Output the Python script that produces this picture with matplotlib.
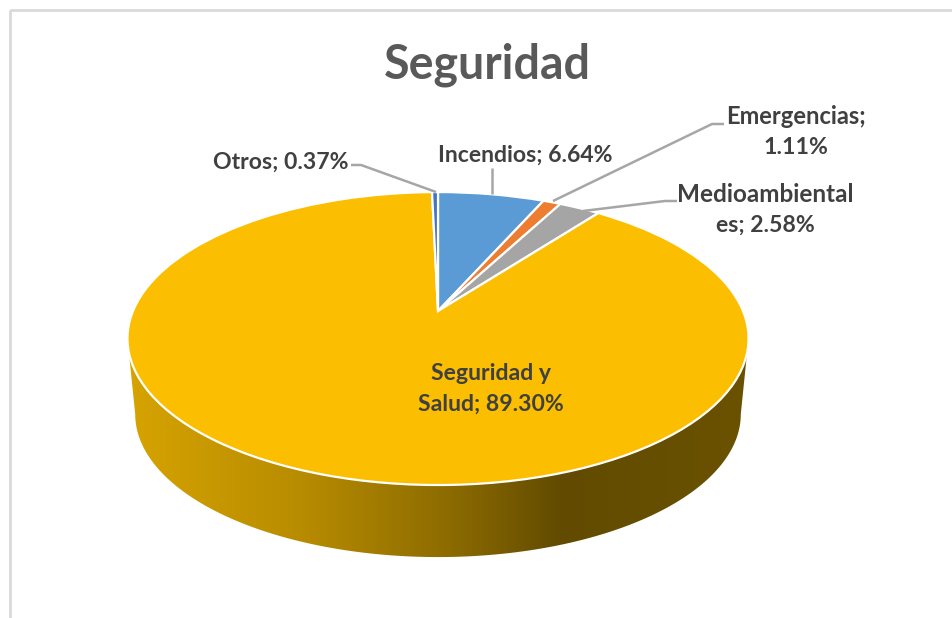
import numpy as np
import matplotlib
matplotlib.use("Agg")
import matplotlib.pyplot as plt
from matplotlib.colors import LinearSegmentedColormap
from matplotlib.patches import PathPatch, Rectangle
from matplotlib.path import Path
from matplotlib.transforms import Transform

# Chart data
categories = ['Incendios', 'Emergencias', 'Medioambiental', 'Seguridad y Salud', 'Otros']
values = [6.64, 1.11, 2.58, 89.30, 0.37]
colors = ['#5B9BD5', '#ED7D31', '#A5A5A5', '#FBBE00', '#4472C4']

# Geometry of the tilted pie, in screenshot pixels
APEX_X, APEX_Y = 438, 311
SCALE_X, SCALE_Y, TILT = 305, 141.3, 0.188
WALL_SHIFT, WALL_SCALE = 76.4, 0.975


def project(u, v, shift=0.0, scale=1.0):
    w = 1 + TILT * v
    return APEX_X + scale * SCALE_X * u / w, APEX_Y + shift - scale * SCALE_Y * v / w


class TiltTransform(Transform):
    input_dims = 2
    output_dims = 2

    def transform_non_affine(self, xy):
        xy = np.asarray(xy)
        x, y = project(xy[:, 0], xy[:, 1])
        return np.column_stack([x, y])


plt.rcParams['font.family'] = ['Lato', 'DejaVu Sans']
fig = plt.figure(figsize=(9.52, 6.18), dpi=100)
ax = fig.add_axes([0, 0, 1, 1])

wedges, _ = ax.pie(values, colors=colors, startangle=90, counterclock=False,
                   wedgeprops={'edgecolor': 'white', 'linewidth': 1.6, 'zorder': 5})

ax.set_aspect('auto')
ax.set_xlim(0, 952)
ax.set_ylim(618, 0)
ax.axis('off')

tilt = TiltTransform()
for w in wedges:
    w.set_transform(tilt + ax.transData)
    w.set_clip_on(False)

# Chart frame, cut by the screenshot on the right and bottom
ax.add_patch(Rectangle((10, 10), 1000, 700, fill=False, edgecolor='#D9D9D9', linewidth=2))

# Side wall with the horizontal shading, from one widest point of the rim to the other
edge = np.arcsin(TILT)
t = np.linspace(np.pi + edge, 2 * np.pi - edge, 240)
wall_x, wall_y = project(np.cos(t), np.sin(t), WALL_SHIFT, WALL_SCALE)
top_t = t[::-1]
top_x, top_y = project(np.cos(top_t), np.sin(top_t))
outline = np.column_stack([np.r_[wall_x, top_x], np.r_[wall_y, top_y]])
clip = PathPatch(Path(np.vstack([outline, outline[0]]), closed=True), transform=ax.transData,
                 facecolor='none', edgecolor='none')
ax.add_patch(clip)

shade = LinearSegmentedColormap.from_list('wall', [
    (0.0, '#D6A300'), (0.28, '#B88C00'), (0.52, '#8C6B00'),
    (0.70, '#624B00'), (1.0, '#6A5200')])
grad = ax.imshow(np.linspace(0, 1, 620).reshape(1, -1), cmap=shade, aspect='auto',
                 extent=(127, 748, 560, 330), zorder=2, interpolation='bilinear')
grad.set_clip_path(clip)
ax.set_xlim(0, 952)
ax.set_ylim(618, 0)

# Leader lines
leader = {'color': '#A6A6A6', 'linewidth': 1.8, 'zorder': 6, 'solid_capstyle': 'butt'}
ax.plot([351, 361, 436], [165, 165, 192], **leader)
ax.plot([492, 492], [168, 194], **leader)
ax.plot([724, 712, 553], [124, 124, 201], **leader)
ax.plot([677, 665, 583], [201, 201, 211], **leader)

# Texts
ax.text(487, 65, 'Seguridad', fontsize=33.5, fontweight='bold', color='#595959',
        ha='center', va='center')
label = {'fontweight': 'bold', 'color': '#404040', 'ha': 'center', 'va': 'center', 'zorder': 7}
ax.text(281, 162, f'Otros; {values[4]:.2f}%', fontsize=16.6, **label)
ax.text(525, 155, f'Incendios; {values[0]:.2f}%', fontsize=16.6, **label)
ax.text(796, 116, 'Emergencias;', fontsize=17.1, **label)
ax.text(796, 147, f'{values[1]:.2f}%', fontsize=16.6, **label)
ax.text(765, 195, 'Medioambiental', fontsize=17.5, **label)
ax.text(765, 225, f'es; {values[2]:.2f}%', fontsize=16.6, **label)
ax.text(491, 373, 'Seguridad y', fontsize=16.6, **label)
ax.text(491, 404, f'Salud; {values[3]:.2f}%', fontsize=16.6, **label)

fig.savefig('out.png', dpi=100, facecolor='white')
